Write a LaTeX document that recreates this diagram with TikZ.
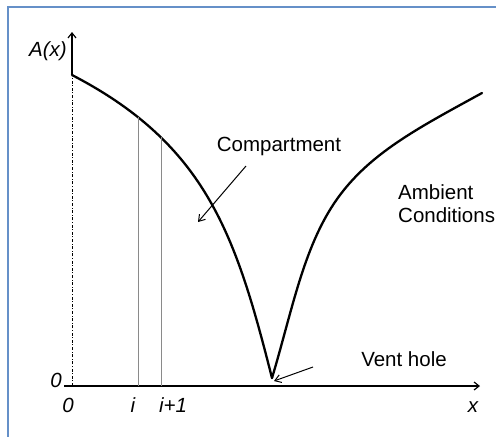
\documentclass[tikz,border=0pt]{standalone}
\usepackage{fontspec}
\setmainfont{Liberation Sans}
\usetikzlibrary{arrows.meta, positioning}
\definecolor{frameBlue}{HTML}{6590C8}
\definecolor{guideGray}{HTML}{8A8A8A}

\begin{document}
\begin{tikzpicture}[x=1pt, y=-1pt,
    eje/.style={line width=1.2pt, -{Straight Barb[length=5pt, width=8pt]}},
    curva/.style={line width=2.3pt, line cap=round, line join=round},
    guia/.style={line width=0.7pt, color=guideGray},
    fl/.style={line width=1pt, -{Straight Barb[length=6pt, width=8pt]}},
    etq/.style={font=\fontsize{20.5}{23}\selectfont, inner sep=0pt, anchor=base},
    num/.style={etq, font=\fontsize{20.5}{23}\selectfont\itshape}]

    \useasboundingbox (0,0) rectangle (496,437);
    \draw[frameBlue, line width=2pt] (8,437) -- (8,7) -- (496,7);

    % axes
    \coordinate (o)    at (72,386);
    \coordinate (xs)   at (64,386);
    \coordinate (xe)   at (480,386);
    \coordinate (a0)   at (72,75);
    \coordinate (ye)   at (72,32);
    \draw[line width=0.9pt, dash pattern=on 3pt off 1.6pt on 1pt off 1.6pt] (o) -- (a0);
    \draw[eje] (a0) -- (ye);
    \draw[eje] (xs) -- (xe);

    % area curve
    \coordinate (vent) at (272,378);
    \coordinate (mid)  at (340,195);
    \coordinate (end)  at (482,93);
    \draw[curva] (a0) .. controls (207,145) and (236,236) .. (vent)
        coordinate[pos=0.19] (ci) coordinate[pos=0.272] (cj);
    \draw[curva] (vent) .. controls (293,308) and (304,243) .. (mid)
        .. controls (373,151) and (422,126) .. (end);

    % cells i and i+1
    \draw[guia] (ci) -- (ci |- o);
    \draw[guia] (cj) -- (cj |- o);

    % labels
    \node[num] (ay)   at (48,56)   {A(x)};
    \node[num] (zy)   at (56,387)  {0};
    \node[num] (zx)   at (68,412)  {0};
    \node[num] (li)   at (133,412) {i};
    \node[num] (lj)   at (173,412) {i+1};
    \node[num] (lx)   at (473,412) {x};
    \node[etq] (comp) at (279,151) {Compartment};
    \node[etq] (vh)   at (404,366) {Vent hole};
    \node[etq, anchor=base west, align=left] (amb) at (398,222) {Ambient\\Conditions};

    % pointers
    \coordinate (cs) at (246,166);
    \coordinate (ce) at (198,222);
    \coordinate (vs) at (313,367);
    \coordinate (vt) at (274,381);
    \draw[fl] (cs) -- (ce);
    \draw[fl] (vs) -- (vt);
\end{tikzpicture}
\end{document}
